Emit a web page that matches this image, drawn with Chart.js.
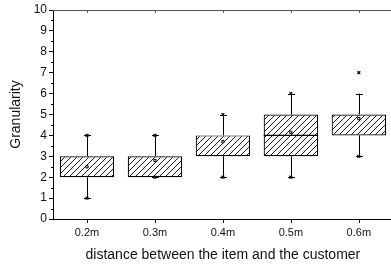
<!DOCTYPE html>
<html lang="en">
<head>
<meta charset="UTF-8">
<title>Granularity box chart</title>
<script src="https://cdn.jsdelivr.net/npm/chart.js"></script>
<style>
  html, body { margin: 0; padding: 0; background: #fff; overflow: hidden; }
  #wrap { width: 398px; height: 266px; }
</style>
</head>
<body>
<div id="wrap"><canvas id="boxChart"></canvas></div>
<script>
const categories = ['0.2m', '0.3m', '0.4m', '0.5m', '0.6m'];
const q1 = [2, 2, 3, 3, 4];
const q3 = [3, 3, 4, 5, 5];
const medians = [2, 2, 3, 4, 4];
const means = [2.5, 2.8, 3.7, 4.15, 4.8];
const whiskerLow = [1, 2, 2, 2, 3];
const whiskerHigh = [4, 4, 5, 6, 6];
const pctLow = [1, 2, 2, 2, 3];
const pctHigh = [4, 4, 5, 6, 7];
const yTicks = [0, 1, 2, 3, 4, 5, 6, 7, 8, 9, 10];

function hatch() {
    const c = document.createElement('canvas');
    c.width = 6; c.height = 6;
    const g = c.getContext('2d');
    g.fillStyle = '#fff';
    g.fillRect(0, 0, 6, 6);
    g.strokeStyle = '#000';
    g.lineWidth = 0.9;
    g.beginPath();
    g.moveTo(0, 6); g.lineTo(6, 0);
    g.moveTo(-1, 1); g.lineTo(1, -1);
    g.moveTo(5, 7); g.lineTo(7, 5);
    g.stroke();
    return g.createPattern(c, 'repeat');
}

const boxExtras = {
    id: 'boxExtras',
    beforeDatasetsDraw(chart) {
        const { ctx, scales: { x, y } } = chart;
        ctx.save();
        ctx.strokeStyle = '#000';
        ctx.lineWidth = 1;
        categories.forEach((c, i) => {
            const px = Math.round(x.getPixelForValue(i)) + 0.5;
            ctx.beginPath();
            ctx.moveTo(px, y.getPixelForValue(q3[i]));
            ctx.lineTo(px, y.getPixelForValue(whiskerHigh[i]));
            ctx.moveTo(px, y.getPixelForValue(q1[i]));
            ctx.lineTo(px, y.getPixelForValue(whiskerLow[i]));
            [whiskerHigh[i], whiskerLow[i]].forEach(v => {
                const py = Math.round(y.getPixelForValue(v)) + 0.5;
                ctx.moveTo(px - 3.5, py);
                ctx.lineTo(px + 3.5, py);
            });
            ctx.stroke();
        });
        ctx.restore();
    },
    afterDatasetsDraw(chart) {
        const { ctx, chartArea, scales: { x, y } } = chart;
        ctx.save();
        ctx.strokeStyle = '#000';
        ctx.lineWidth = 1.2;
        const meta = chart.getDatasetMeta(0);
        categories.forEach((c, i) => {
            if (medians[i] === q1[i] || medians[i] === q3[i]) return;
            const bar = meta.data[i];
            const half = bar.width / 2;
            const py = y.getPixelForValue(medians[i]);
            ctx.beginPath();
            ctx.moveTo(bar.x - half, py);
            ctx.lineTo(bar.x + half, py);
            ctx.stroke();
        });
        // top frame line with inward ticks, bottom outward ticks
        ctx.lineWidth = 1;
        ctx.strokeStyle = '#555';
        ctx.beginPath();
        ctx.moveTo(chartArea.left, chartArea.top + 0.5);
        ctx.lineTo(chartArea.right, chartArea.top + 0.5);
        categories.forEach((c, i) => {
            const px = Math.round(x.getPixelForValue(i)) + 0.5;
            ctx.moveTo(px, chartArea.top);
            ctx.lineTo(px, chartArea.top + 3);
        });
        ctx.stroke();
        ctx.strokeStyle = '#000';
        ctx.beginPath();
        categories.forEach((c, i) => {
            const px = Math.round(x.getPixelForValue(i)) + 0.5;
            ctx.moveTo(px, chartArea.bottom);
            ctx.lineTo(px, chartArea.bottom + 4);
        });
        // minor y ticks
        for (let k = 0; k < yTicks.length - 1; k++) {
            const py = Math.round(y.getPixelForValue((yTicks[k] + yTicks[k + 1]) / 2)) + 0.5;
            ctx.moveTo(chartArea.left - 2, py);
            ctx.lineTo(chartArea.left, py);
        }
        ctx.stroke();
        ctx.restore();
    }
};

new Chart(document.getElementById('boxChart'), {
    type: 'bar',
    data: {
        labels: categories,
        datasets: [{
            label: 'box',
            data: categories.map((c, i) => [q1[i], q3[i]]),
            backgroundColor: hatch(),
            borderColor: '#000',
            borderWidth: 1.2,
            borderSkipped: false,
            barPercentage: 0.8,
            categoryPercentage: 1,
            order: 2
        }, {
            type: 'line',
            label: 'mean',
            data: means,
            showLine: false,
            pointStyle: 'rect',
            pointRadius: 1.6,
            pointBackgroundColor: '#fff',
            pointBorderColor: '#000',
            pointBorderWidth: 1,
            order: 1
        }, {
            type: 'line',
            label: 'high',
            data: pctHigh,
            showLine: false,
            pointStyle: 'crossRot',
            pointRadius: 2,
            pointBorderColor: '#000',
            pointBorderWidth: 1.2,
            order: 1
        }, {
            type: 'line',
            label: 'low',
            data: pctLow,
            showLine: false,
            pointStyle: 'crossRot',
            pointRadius: 2,
            pointBorderColor: '#000',
            pointBorderWidth: 1.2,
            order: 1
        }]
    },
    options: {
        responsive: true,
        maintainAspectRatio: false,
        animation: false,
        layout: { padding: { top: 10, right: 0, left: 0, bottom: 0 } },
        plugins: {
            legend: { display: false },
            tooltip: { enabled: false }
        },
        scales: {
            x: {
                offset: true,
                grid: { display: false, tickLength: 4 },
                border: { display: true, color: '#000', width: 1 },
                ticks: { color: '#111', font: { family: 'Liberation Sans', size: 11 }, padding: 3 },
                title: {
                    display: true,
                    text: 'distance between the item and the customer',
                    color: '#111',
                    font: { family: 'Liberation Sans', size: 14 },
                    padding: { top: 0, bottom: 2 }
                },
                afterFit(scale) { scale.height = 47; }
            },
            y: {
                min: 0,
                max: 10,
                afterBuildTicks(scale) { scale.ticks = yTicks.map(v => ({ value: v })); },
                grid: { display: true, drawOnChartArea: false, tickLength: 4, color: '#000' },
                border: { display: true, color: '#000', width: 1 },
                ticks: { color: '#111', font: { family: 'Liberation Sans', size: 12 }, padding: 2 },
                title: {
                    display: true,
                    text: 'Granularity',
                    color: '#111',
                    font: { family: 'Liberation Sans', size: 14 },
                    padding: { top: 8, bottom: 0 }
                },
                afterFit(scale) { scale.width = 53; }
            }
        }
    },
    plugins: [boxExtras]
});
</script>
</body>
</html>
